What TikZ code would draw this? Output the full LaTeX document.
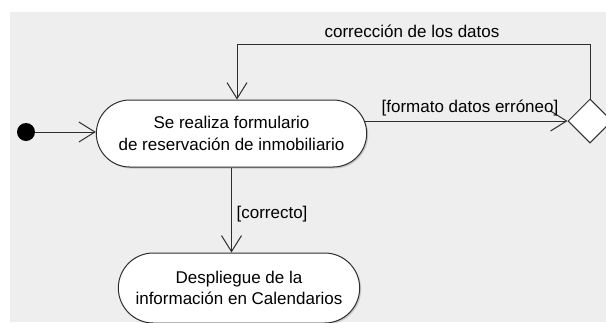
\documentclass[tikz,border=0pt]{standalone}
\usepackage{fontspec}
\setmainfont{Liberation Sans}
\usetikzlibrary{shapes.geometric, shapes.misc, arrows.meta, shadows, calc}
\definecolor{DiagramBack}{HTML}{EEEEEE}
\definecolor{DiagramLine}{HTML}{2E2E2E}

\begin{document}
\begin{tikzpicture}[x=1pt, y=-1pt,
    activity/.style={draw=DiagramLine, line width=1pt, fill=white, rounded rectangle, align=center,
        font=\fontsize{17}{21.5}\selectfont,
        drop shadow={shadow xshift=1.5pt, shadow yshift=-1.5pt, opacity=0.35}},
    flow/.style={-{Straight Barb[length=16pt, width=20pt]}, DiagramLine, line width=1pt},
    guard/.style={font=\fontsize{17}{21.5}\selectfont, inner sep=0pt}]
    % Background
    \useasboundingbox (0,0) rectangle (606,322);
    \fill[DiagramBack] (10,12) rectangle (606,322);

    % Activities
    \node[circle, fill=black, minimum size=18pt, inner sep=0pt] (start) at (26,132) {};
    \node[activity, minimum width=277pt, minimum height=67pt] (form) at (231.5,133.5) {Se realiza formulario\\de reservación de inmobiliario};
    \node[diamond, draw=DiagramLine, line width=1pt, fill=white, minimum width=44pt, minimum height=44pt, inner sep=0pt] (check) at (590,121) {};
    \node[activity, minimum width=248pt, minimum height=70pt] (show) at (239,288) {Despliegue de la\\información en Calendarios};
    \coordinate (back) at (237,44);

    % Transitions
    \draw[flow] (start) -- (start -| form.west);
    \draw[flow] ($(form.east |- check.west)+(-2.4,0)$) -- (check.west);
    \draw[flow] (check.north) |- (back) -- (back |- form.north);
    \draw[flow] (form.south) -- (form.south |- show.north);

    % Guards
    \node[guard] (err) at (470,108) {[formato datos erróneo]};
    \node[guard] (fix) at (412,31) {corrección de los datos};
    \node[guard] (ok) at (272,214) {[correcto]};
\end{tikzpicture}
\end{document}
